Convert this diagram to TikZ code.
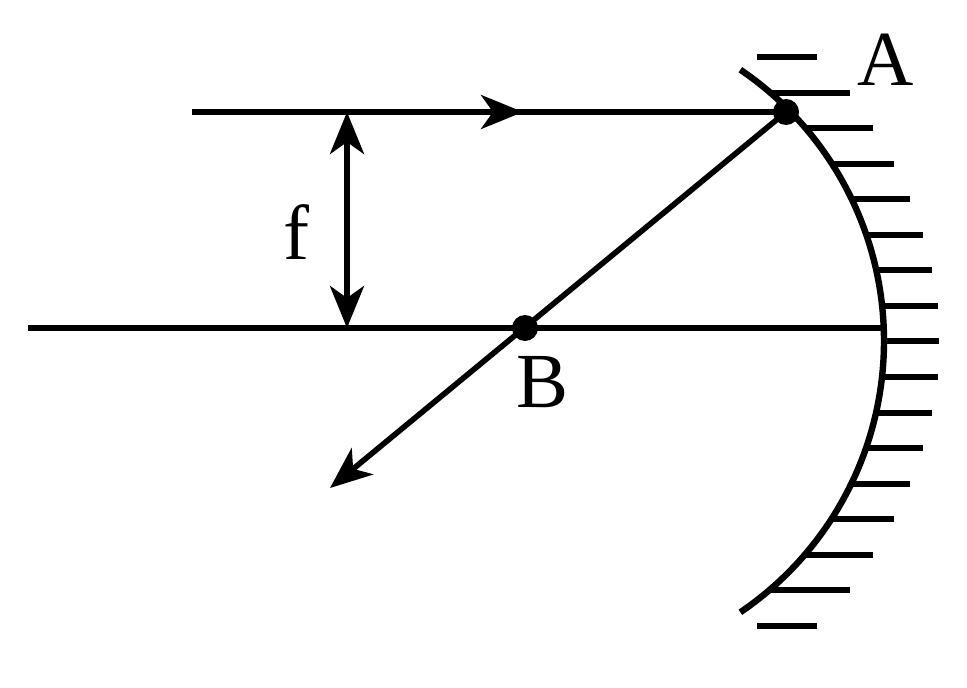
\documentclass[tikz,border=0pt]{standalone}
\usepackage{fontspec}
\setmainfont{Liberation Serif}
\usetikzlibrary{arrows.meta,positioning}

\tikzset{
  ray/.style={line width=2.8pt},
  hatch/.style={line width=2.8pt},
  dot/.style={circle,fill,inner sep=0pt,minimum size=13pt},
  lbl/.style={font=\fontsize{39}{42}\selectfont,inner sep=0pt},
  >={Stealth[length=21pt,width=17pt,inset=6pt]}
}

\begin{document}
\begin{tikzpicture}[x=0.5pt,y=0.5pt]
  \useasboundingbox (0,0) rectangle (967,687);

  \coordinate (O) at (556,346);
  \node[dot] (A) at (786,575) {};
  \node[dot] (B) at (525,359) {};
  \coordinate (L) at (28,359);
  \coordinate (P) at (884,359);
  \coordinate (S) at (192,575);
  \coordinate (M) at (523,575);
  \coordinate (E) at (330,199);
  \coordinate (F1) at (347,575);
  \coordinate (F2) at (347,359);

  % mirror
  \draw[line width=3.2pt] (O) ++(55.8:328) arc (55.8:-55.8:328);
  \foreach \y/\xa/\xb in {630/757/817, 594/769/850, 559/805/873, 523/831/894,
      488/851/910, 452/866/923, 417/876/932, 381/882/938, 346/884/939,
      310/882/938, 274/876/932, 239/866/923, 203/851/910, 168/831/894,
      132/805/873, 97/769/850, 61/757/817}
    \draw[hatch] (\xa,\y) -- (\xb,\y);

  % axis and rays
  \draw[ray] (L) -- (P);
  \draw[ray] (S) -- (A.center);
  \draw[ray,->] (S) -- (M);
  \draw[ray,->] (A.center) -- (E);
  \draw[ray,<->] (F1) -- (F2);

  \node[lbl] (f) at (296,455) {f};
  \node[lbl] (lA) at (886,627) {A};
  \node[lbl] (lB) at (543,305) {B};
\end{tikzpicture}
\end{document}
